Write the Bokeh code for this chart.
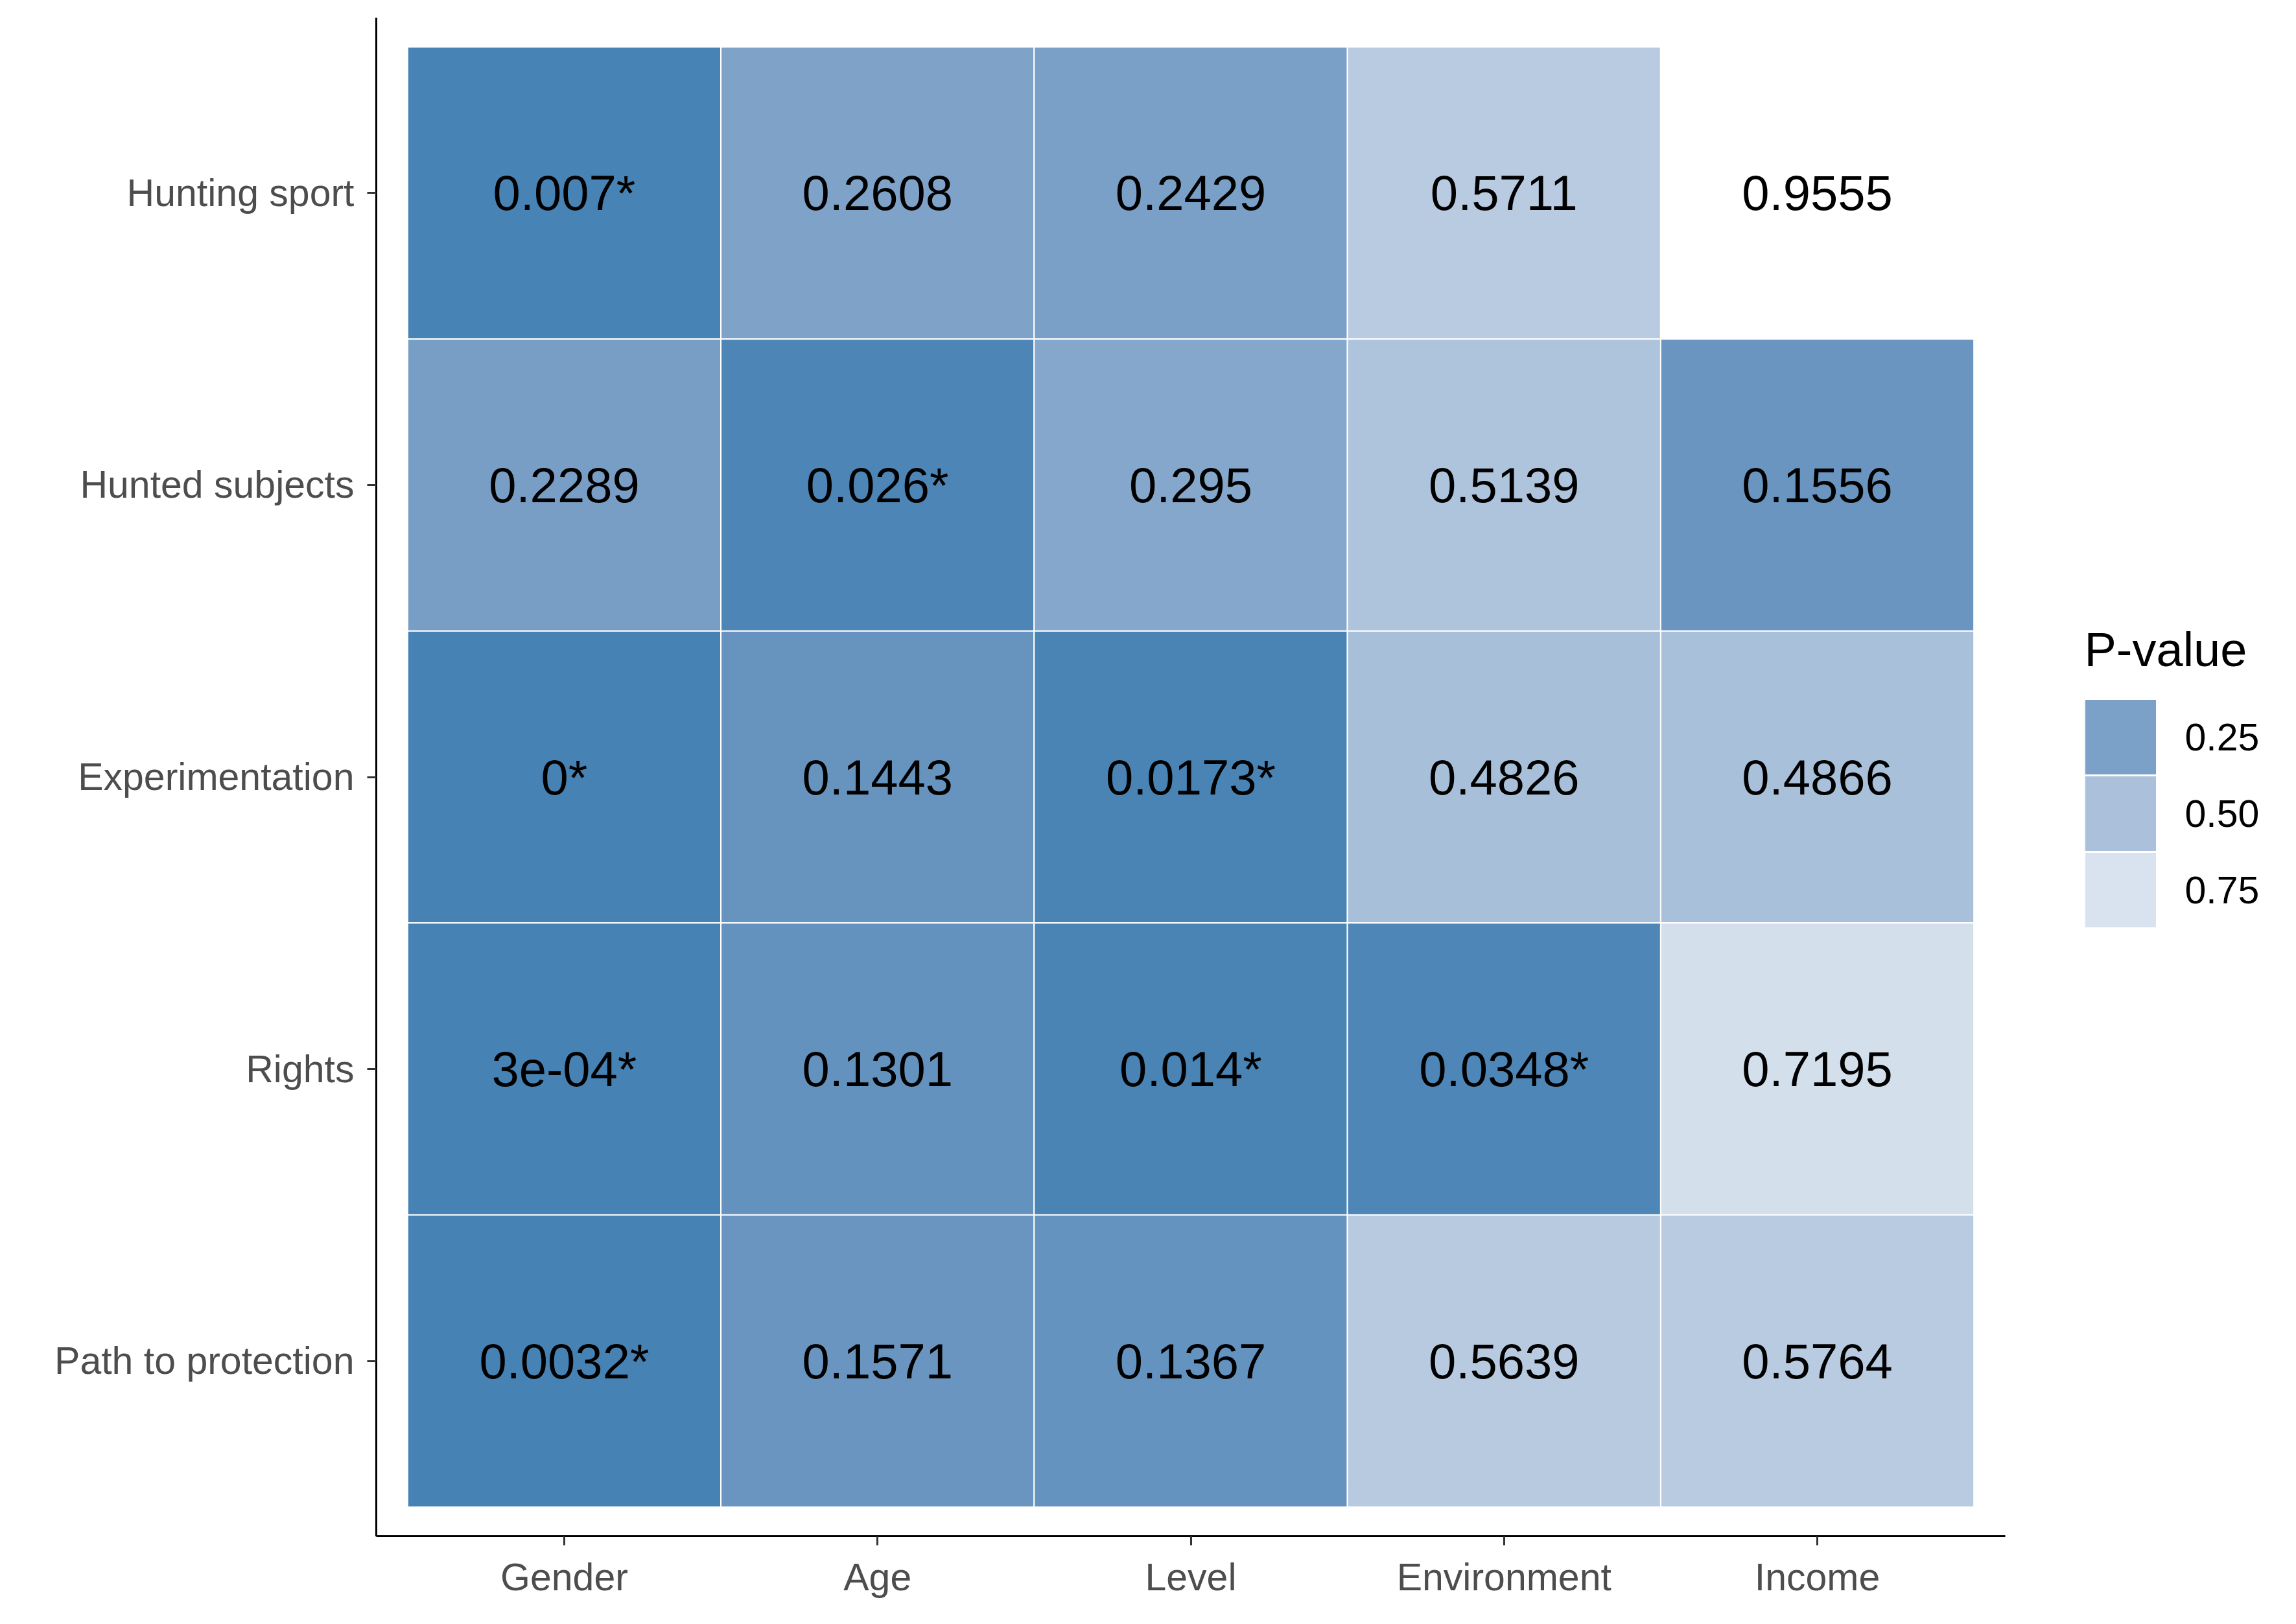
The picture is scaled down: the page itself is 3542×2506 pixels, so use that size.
from bokeh.plotting import figure
from bokeh.layouts import row
from bokeh.models import ColumnDataSource, FactorRange, Range1d, Label
from bokeh.core.properties import value
from bokeh.embed import file_html
from bokeh.resources import INLINE

# ---- data ----
x_cats = ["Gender", "Age", "Level", "Environment", "Income"]
y_cats = ["Hunting sport", "Hunted subjects", "Experimentation", "Rights", "Path to protection"]

hunting_sport = [0.007, 0.2608, 0.2429, 0.5711, 0.9555]
hunted_subjects = [0.2289, 0.026, 0.295, 0.5139, 0.1556]
experimentation = [0.0, 0.1443, 0.0173, 0.4826, 0.4866]
rights = [0.0003, 0.1301, 0.014, 0.0348, 0.7195]
path_to_protection = [0.0032, 0.1571, 0.1367, 0.5639, 0.5764]

hunting_sport_lbl = ["0.007*", "0.2608", "0.2429", "0.5711", "0.9555"]
hunted_subjects_lbl = ["0.2289", "0.026*", "0.295", "0.5139", "0.1556"]
experimentation_lbl = ["0*", "0.1443", "0.0173*", "0.4826", "0.4866"]
rights_lbl = ["3e-04*", "0.1301", "0.014*", "0.0348*", "0.7195"]
path_to_protection_lbl = ["0.0032*", "0.1571", "0.1367", "0.5639", "0.5764"]

legend_title = "P-value"
legend_breaks = [0.25, 0.50, 0.75]
legend_labels = ["0.25", "0.50", "0.75"]

LOW = (70, 130, 180)    # steelblue
HIGH = (255, 255, 255)  # white

# ---- colour ramp in CIELAB (like ggplot's scale_fill_gradient) ----
def _lin(c):
    c = c / 255.0
    return c / 12.92 if c <= 0.04045 else ((c + 0.055) / 1.055) ** 2.4

def _delin(c):
    c = 12.92 * c if c <= 0.0031308 else 1.055 * c ** (1 / 2.4) - 0.055
    return max(0, min(255, round(c * 255)))

WX, WY, WZ = 0.95047, 1.0, 1.08883

def rgb2lab(rgb):
    r, g, b = (_lin(v) for v in rgb)
    X = 0.4124564 * r + 0.3575761 * g + 0.1804375 * b
    Y = 0.2126729 * r + 0.7151522 * g + 0.0721750 * b
    Z = 0.0193339 * r + 0.1191920 * g + 0.9503041 * b
    def f(t):
        return t ** (1 / 3) if t > 216 / 24389 else (24389 / 27 * t + 16) / 116
    fx, fy, fz = f(X / WX), f(Y / WY), f(Z / WZ)
    return (116 * fy - 16, 500 * (fx - fy), 200 * (fy - fz))

def lab2rgb(lab):
    L, a, b = lab
    fy = (L + 16) / 116
    fx = fy + a / 500
    fz = fy - b / 200
    def finv(t):
        return t ** 3 if t ** 3 > 216 / 24389 else (116 * t - 16) / (24389 / 27)
    X, Y, Z = finv(fx) * WX, finv(fy) * WY, finv(fz) * WZ
    r = 3.2404542 * X - 1.5371385 * Y - 0.4985314 * Z
    g = -0.9692660 * X + 1.8760108 * Y + 0.0415560 * Z
    bb = 0.0556434 * X - 0.2040259 * Y + 1.0572252 * Z
    return "#%02x%02x%02x" % (_delin(r), _delin(g), _delin(bb))

LAB_LO, LAB_HI = rgb2lab(LOW), rgb2lab(HIGH)

rows_vals = [hunting_sport, hunted_subjects, experimentation, rights, path_to_protection]
rows_lbls = [hunting_sport_lbl, hunted_subjects_lbl, experimentation_lbl, rights_lbl, path_to_protection_lbl]
all_vals = [v for r in rows_vals for v in r]
VMIN, VMAX = min(all_vals), max(all_vals)

def colour(v):
    t = (v - VMIN) / (VMAX - VMIN)
    t = max(0.0, min(1.0, t))
    return lab2rgb(tuple(lo + (hi - lo) * t for lo, hi in zip(LAB_LO, LAB_HI)))

xs, ys, vals, lbls, fills = [], [], [], [], []
for yc, rv, rl in zip(y_cats, rows_vals, rows_lbls):
    for xc, v, l in zip(x_cats, rv, rl):
        xs.append(xc); ys.append(yc); vals.append(v); lbls.append(l); fills.append(colour(v))

src = ColumnDataSource(dict(x=xs, y=ys, v=vals, label=lbls, fill=fills))

FONT = "Liberation Sans"

# layout constants (pixels)
TOP, FRAME_H, BOTTOM = 27, 2343, 110
LEFT, FRAME_W, RIGHT = 580, 2513, 10

# ---- main heatmap ----
p = figure(
    x_range=FactorRange(factors=x_cats, range_padding=0.04),
    y_range=FactorRange(factors=list(reversed(y_cats)), range_padding=0.04),
    frame_width=FRAME_W, frame_height=FRAME_H,
    min_border_left=LEFT, min_border_top=TOP, min_border_bottom=BOTTOM, min_border_right=RIGHT,
    output_backend="svg", toolbar_location=None,
)
p.outline_line_color = None
p.background_fill_color = "white"
p.border_fill_color = "white"
p.xgrid.visible = False
p.ygrid.visible = False

p.rect(x="x", y="y", width=1, height=1, source=src, fill_color="fill",
       line_color="white", line_width=2)
p.text(x="x", y="y", text="label", source=src, text_align="center",
       text_baseline="middle", text_font=value(FONT), text_font_size="76px",
       text_color="black")

for ax in (p.xaxis[0], p.yaxis[0]):
    ax.axis_line_color = "black"
    ax.axis_line_width = 3
    ax.major_tick_line_color = "#333333"
    ax.major_tick_line_width = 3
    ax.major_tick_out = 14
    ax.major_tick_in = 0
    ax.minor_tick_line_color = None
    ax.major_label_text_font = FONT
    ax.major_label_text_font_size = "59px"
    ax.major_label_text_color = "#4d4d4d"
p.xaxis[0].major_label_standoff = 16
p.yaxis[0].major_label_standoff = 20

# ---- colour key (legend), as a side figure whose frame lines up with the main one ----
KEY_PX = 118          # height of one key in pixels
KEY_W_PX = 112        # width of one key in pixels
KEY_TOP_PX = 1051     # from frame top to the first key's top
LEG_FRAME_W = 300
LABEL_GAP_PX = 43
TITLE_GAP_PX = 76
n = len(legend_labels)
y_top = -0.5 - KEY_TOP_PX / KEY_PX
y_bottom = y_top + FRAME_H / KEY_PX

key_src = ColumnDataSource(dict(
    x=[0.5] * n,
    y=list(range(n)),
    lx=[1 + LABEL_GAP_PX / KEY_W_PX] * n,
    lab=legend_labels,
    fill=[colour(b) for b in legend_breaks],
))
leg = figure(
    x_range=Range1d(0, LEG_FRAME_W / KEY_W_PX),
    y_range=Range1d(start=y_bottom, end=y_top),
    frame_width=LEG_FRAME_W, frame_height=FRAME_H,
    min_border_left=112, min_border_top=TOP, min_border_bottom=BOTTOM, min_border_right=5,
    x_axis_location=None, y_axis_location=None,
    output_backend="svg", toolbar_location=None,
)
leg.outline_line_color = None
leg.xgrid.visible = False
leg.ygrid.visible = False
leg.rect(x="x", y="y", width=1, height=1, source=key_src, fill_color="fill",
         line_color="white", line_width=3)
leg.text(x="lx", y="y", text="lab", source=key_src, text_align="left",
         text_baseline="middle", text_font=value(FONT), text_font_size="59px",
         text_color="black")
leg.add_layout(Label(x=0, y=-0.5 - TITLE_GAP_PX / KEY_PX, text=legend_title,
                     text_font=FONT, text_font_size="74px", text_color="black",
                     text_align="left", text_baseline="alphabetic"))

layout = row(p, leg)
open("out.html", "w").write(file_html(layout, INLINE))
